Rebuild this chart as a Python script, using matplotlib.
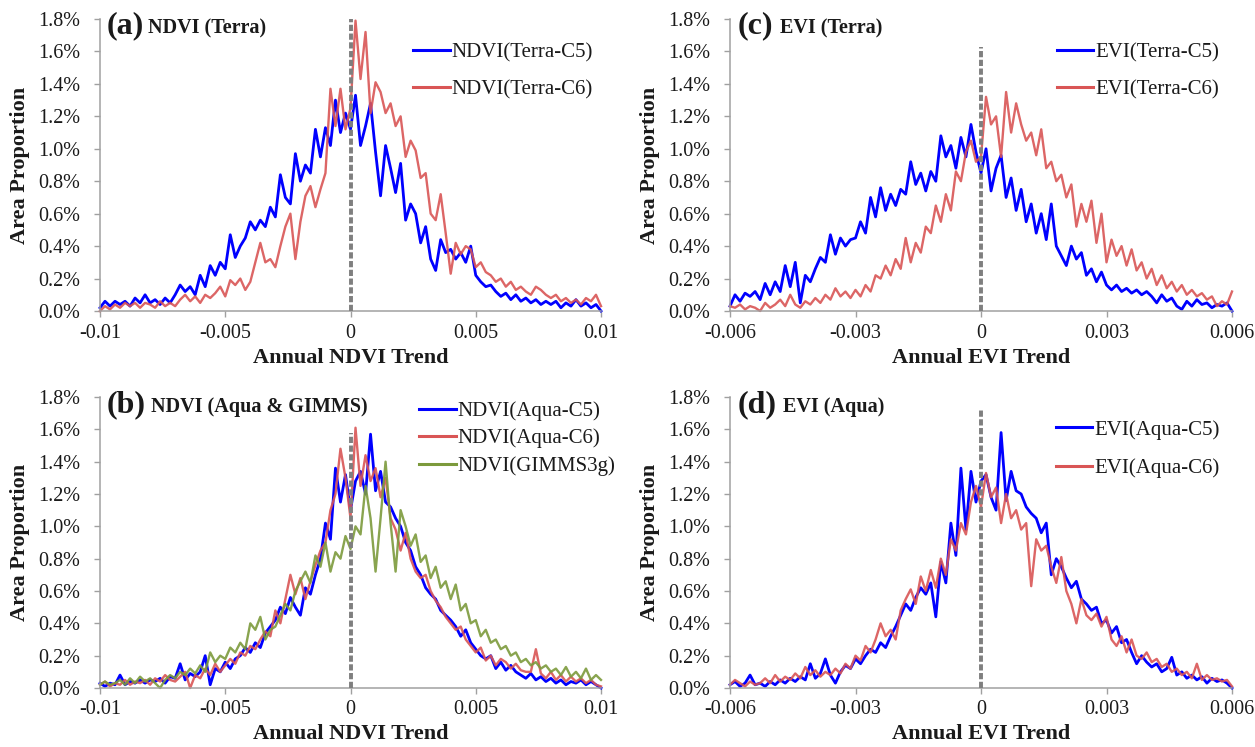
import numpy as np
import matplotlib
matplotlib.use("Agg")
import matplotlib.pyplot as plt
from matplotlib.lines import Line2D

plt.rcParams['font.family'] = ['Liberation Serif', 'DejaVu Serif']

# ---------------- data (Area proportion, %) ----------------
ndvi_bins = np.linspace(-0.01, 0.01, 101)
evi_bins = np.linspace(-0.006, 0.006, 101)

ndvi_terra_c5 = [
    0.02, 0.06, 0.03, 0.06, 0.04, 0.06, 0.03, 0.08, 0.05, 0.10,
    0.05, 0.07, 0.04, 0.08, 0.05, 0.10, 0.16, 0.12, 0.15, 0.10,
    0.22, 0.15, 0.28, 0.22, 0.30, 0.26, 0.47, 0.33, 0.40, 0.45,
    0.55, 0.50, 0.56, 0.52, 0.64, 0.58, 0.84, 0.70, 0.66, 0.97,
    0.80, 0.90, 0.85, 1.12, 0.95, 1.13, 1.02, 1.30, 1.10, 1.22,
    1.12, 1.33, 1.02, 1.14, 1.28, 0.98, 0.71, 1.02, 0.88, 0.73,
    0.91, 0.56, 0.66, 0.60, 0.42, 0.52, 0.32, 0.25, 0.44, 0.36,
    0.38, 0.32, 0.36, 0.30, 0.40, 0.22, 0.18, 0.15, 0.16, 0.12,
    0.09, 0.11, 0.07, 0.10, 0.06, 0.08, 0.05, 0.07, 0.04, 0.06,
    0.04, 0.06, 0.02, 0.05, 0.03, 0.07, 0.03, 0.05, 0.02, 0.04,
    0.00]
ndvi_terra_c6 = [
    0.00, 0.03, 0.01, 0.04, 0.02, 0.05, 0.03, 0.05, 0.02, 0.05,
    0.04, 0.02, 0.06, 0.03, 0.05, 0.03, 0.07, 0.10, 0.06, 0.09,
    0.05, 0.10, 0.08, 0.11, 0.15, 0.09, 0.19, 0.16, 0.20, 0.13,
    0.18, 0.30, 0.42, 0.30, 0.32, 0.27, 0.40, 0.52, 0.60, 0.32,
    0.55, 0.71, 0.77, 0.64, 0.75, 0.85, 1.37, 1.14, 1.37, 1.12,
    1.25, 1.79, 1.43, 1.72, 1.22, 1.41, 1.35, 1.22, 1.28, 1.14,
    1.20, 0.95, 1.05, 0.99, 0.82, 0.85, 0.60, 0.56, 0.72, 0.48,
    0.23, 0.42, 0.35, 0.40, 0.38, 0.27, 0.30, 0.24, 0.22, 0.18,
    0.20, 0.15, 0.18, 0.13, 0.15, 0.12, 0.10, 0.15, 0.13, 0.10,
    0.08, 0.10, 0.06, 0.08, 0.05, 0.07, 0.04, 0.08, 0.06, 0.10,
    0.03]

ndvi_aqua_c5 = [
    0.03, 0.01, 0.03, 0.02, 0.08, 0.02, 0.04, 0.03, 0.05, 0.03,
    0.05, 0.04, 0.06, 0.03, 0.07, 0.06, 0.15, 0.05, 0.09, 0.07,
    0.10, 0.20, 0.02, 0.12, 0.10, 0.16, 0.12, 0.18, 0.20, 0.25,
    0.22, 0.28, 0.25, 0.34, 0.38, 0.42, 0.50, 0.46, 0.56, 0.50,
    0.45, 0.62, 0.58, 0.70, 0.80, 1.02, 0.92, 1.36, 1.15, 1.32,
    1.10, 1.28, 1.34, 1.20, 1.57, 1.22, 1.34, 1.15, 1.12, 1.05,
    1.00, 0.90, 0.85, 0.75, 0.70, 0.62, 0.58, 0.55, 0.48, 0.45,
    0.42, 0.38, 0.32, 0.36, 0.28, 0.24, 0.20, 0.18, 0.20, 0.12,
    0.16, 0.11, 0.14, 0.10, 0.08, 0.06, 0.09, 0.05, 0.07, 0.04,
    0.06, 0.03, 0.05, 0.02, 0.04, 0.03, 0.05, 0.02, 0.04, 0.02,
    0.00]
ndvi_aqua_c6 = [
    0.02, 0.04, 0.01, 0.03, 0.02, 0.05, 0.02, 0.04, 0.03, 0.05,
    0.02, 0.06, 0.04, 0.08, 0.05, 0.04, 0.07, 0.10, 0.00, 0.08,
    0.06, 0.12, 0.08, 0.15, 0.10, 0.14, 0.18, 0.15, 0.22, 0.20,
    0.26, 0.24, 0.30, 0.35, 0.32, 0.48, 0.40, 0.55, 0.70, 0.58,
    0.68, 0.55, 0.66, 0.76, 0.85, 0.90, 1.10, 1.20, 1.48, 1.30,
    1.05, 1.61, 1.25, 1.44, 1.28, 1.36, 1.18, 1.30, 1.05, 0.98,
    0.85, 0.96, 0.80, 0.72, 0.68, 0.70, 0.60, 0.54, 0.50, 0.44,
    0.40, 0.36, 0.38, 0.30, 0.26, 0.22, 0.25, 0.17, 0.20, 0.14,
    0.18, 0.16, 0.12, 0.15, 0.11, 0.10, 0.10, 0.24, 0.09, 0.06,
    0.10, 0.05, 0.08, 0.04, 0.07, 0.04, 0.06, 0.03, 0.05, 0.02,
    0.01]
ndvi_gimms3g = [
    0.02, 0.04, 0.02, 0.03, 0.05, 0.02, 0.06, 0.03, 0.07, 0.04,
    0.06, 0.03, 0.00, 0.05, 0.08, 0.06, 0.10, 0.08, 0.12, 0.09,
    0.14, 0.10, 0.22, 0.16, 0.20, 0.18, 0.25, 0.22, 0.28, 0.24,
    0.40, 0.36, 0.44, 0.30, 0.36, 0.38, 0.45, 0.52, 0.48, 0.60,
    0.66, 0.72, 0.65, 0.82, 0.75, 0.90, 0.72, 0.84, 0.80, 0.94,
    0.86, 1.00, 0.95, 1.25, 1.05, 0.72, 1.05, 1.40, 1.02, 0.72,
    1.10, 1.00, 0.88, 0.95, 0.78, 0.82, 0.68, 0.75, 0.62, 0.66,
    0.55, 0.64, 0.48, 0.52, 0.40, 0.42, 0.32, 0.36, 0.28, 0.30,
    0.24, 0.26, 0.20, 0.22, 0.16, 0.18, 0.14, 0.16, 0.12, 0.14,
    0.10, 0.12, 0.08, 0.13, 0.07, 0.10, 0.06, 0.12, 0.05, 0.08,
    0.05]

evi_terra_c5 = [
    0.03, 0.10, 0.06, 0.11, 0.09, 0.12, 0.07, 0.17, 0.10, 0.18,
    0.12, 0.28, 0.15, 0.30, 0.05, 0.22, 0.18, 0.26, 0.33, 0.30,
    0.47, 0.35, 0.45, 0.40, 0.44, 0.45, 0.55, 0.48, 0.70, 0.58,
    0.76, 0.62, 0.72, 0.65, 0.75, 0.72, 0.92, 0.78, 0.85, 0.74,
    0.86, 0.80, 1.08, 0.95, 1.02, 0.88, 1.07, 0.95, 1.15, 0.98,
    0.85, 1.00, 0.74, 0.88, 0.96, 0.70, 0.82, 0.62, 0.75, 0.55,
    0.66, 0.48, 0.60, 0.44, 0.66, 0.40, 0.34, 0.28, 0.40, 0.32,
    0.36, 0.22, 0.26, 0.18, 0.24, 0.16, 0.13, 0.16, 0.12, 0.14,
    0.11, 0.13, 0.10, 0.12, 0.09, 0.05, 0.10, 0.06, 0.08, 0.03,
    0.01, 0.06, 0.03, 0.07, 0.04, 0.05, 0.02, 0.04, 0.03, 0.05,
    0.00]
evi_terra_c6 = [
    0.03, 0.02, 0.04, 0.01, 0.03, 0.02, 0.00, 0.05, 0.02, 0.04,
    0.07, 0.03, 0.10, 0.04, 0.02, 0.06, 0.04, 0.08, 0.05, 0.10,
    0.07, 0.14, 0.09, 0.12, 0.08, 0.13, 0.09, 0.16, 0.12, 0.22,
    0.20, 0.28, 0.22, 0.32, 0.26, 0.45, 0.30, 0.42, 0.36, 0.52,
    0.48, 0.65, 0.55, 0.72, 0.62, 0.86, 0.80, 0.98, 1.05, 0.92,
    0.95, 1.32, 1.15, 1.20, 0.95, 1.35, 1.10, 1.28, 1.15, 1.05,
    1.10, 0.96, 1.12, 0.88, 0.92, 0.80, 0.84, 0.70, 0.78, 0.52,
    0.66, 0.55, 0.68, 0.42, 0.60, 0.30, 0.44, 0.34, 0.40, 0.28,
    0.38, 0.25, 0.30, 0.20, 0.26, 0.16, 0.22, 0.14, 0.18, 0.12,
    0.16, 0.10, 0.13, 0.09, 0.11, 0.07, 0.09, 0.03, 0.06, 0.04,
    0.12]

evi_aqua_c5 = [
    0.02, 0.04, 0.01, 0.03, 0.08, 0.02, 0.03, 0.01, 0.04, 0.02,
    0.05, 0.03, 0.06, 0.04, 0.07, 0.05, 0.15, 0.06, 0.09, 0.18,
    0.08, 0.03, 0.10, 0.14, 0.12, 0.18, 0.15, 0.20, 0.24, 0.22,
    0.28, 0.25, 0.32, 0.38, 0.45, 0.52, 0.48, 0.56, 0.62, 0.58,
    0.65, 0.44, 0.78, 0.65, 1.02, 0.82, 1.36, 0.98, 1.34, 1.15,
    1.28, 1.32, 1.18, 1.10, 1.58, 1.16, 1.34, 1.22, 1.20, 1.12,
    1.08, 1.05, 0.96, 1.02, 0.70, 0.80, 0.75, 0.68, 0.62, 0.66,
    0.55, 0.52, 0.48, 0.50, 0.40, 0.42, 0.34, 0.38, 0.28, 0.30,
    0.22, 0.15, 0.20, 0.16, 0.13, 0.15, 0.10, 0.12, 0.19, 0.08,
    0.10, 0.06, 0.08, 0.05, 0.07, 0.03, 0.06, 0.04, 0.05, 0.03,
    0.00]
evi_aqua_c6 = [
    0.02, 0.05, 0.03, 0.01, 0.04, 0.02, 0.03, 0.06, 0.03, 0.08,
    0.04, 0.07, 0.05, 0.09, 0.06, 0.13, 0.08, 0.11, 0.07, 0.10,
    0.08, 0.12, 0.09, 0.15, 0.12, 0.20, 0.17, 0.26, 0.22, 0.30,
    0.40, 0.32, 0.36, 0.30, 0.48, 0.55, 0.61, 0.52, 0.69, 0.60,
    0.73, 0.62, 0.80, 0.70, 0.92, 0.85, 1.02, 0.95, 1.15, 1.25,
    1.12, 1.33, 1.18, 1.24, 1.02, 1.20, 1.05, 1.10, 0.98, 1.02,
    0.63, 0.92, 0.85, 0.88, 0.75, 0.65, 0.81, 0.60, 0.52, 0.40,
    0.55, 0.45, 0.42, 0.46, 0.38, 0.44, 0.30, 0.26, 0.32, 0.22,
    0.30, 0.20, 0.18, 0.22, 0.16, 0.18, 0.13, 0.15, 0.10, 0.12,
    0.08, 0.10, 0.06, 0.15, 0.05, 0.08, 0.05, 0.06, 0.04, 0.05,
    0.01]

ndvi_ticks = [-0.01, -0.005, 0, 0.005, 0.01]
ndvi_ticklabels = ["-0.01", "-0.005", "0", "0.005", "0.01"]
evi_ticks = [-0.006, -0.003, 0, 0.003, 0.006]
evi_ticklabels = ["-0.006", "-0.003", "0", "0.003", "0.006"]
y_ticks = [0.0, 0.2, 0.4, 0.6, 0.8, 1.0, 1.2, 1.4, 1.6, 1.8]

BLUE = "#0000FF"
RED = "#D95555"
GREEN = "#7C9A3C"
GRAY = "#7F7F7F"
AXC = "#A0A0A0"
TXT = "#1A1A1A"

panels = [
    dict(rect=[100/1255, 1-311/747, 501/1255, 292/747], x=ndvi_bins,
         series=[(ndvi_terra_c5, BLUE, "NDVI(Terra-C5)"), (ndvi_terra_c6, RED, "NDVI(Terra-C6)")],
         ticks=ndvi_ticks, ticklabels=ndvi_ticklabels, xlabel="Annual NDVI Trend",
         letter="(a)", title="NDVI (Terra)", lx=0.014, tx=0.096, ty=0.952,
         vmax=1.8, leg=(0.625, 0.918), lsp=0.82),
    dict(rect=[100/1255, 1-688/747, 501/1255, 291/747], x=ndvi_bins,
         series=[(ndvi_aqua_c5, BLUE, "NDVI(Aqua-C5)"), (ndvi_aqua_c6, RED, "NDVI(Aqua-C6)"),
                 (ndvi_gimms3g, GREEN, "NDVI(GIMMS3g)")],
         ticks=ndvi_ticks, ticklabels=ndvi_ticklabels, xlabel="Annual NDVI Trend",
         letter="(b)", title="NDVI (Aqua & GIMMS)", lx=0.013, tx=0.101, ty=0.948,
         vmax=1.58, leg=(0.637, 0.986), lsp=0.38),
    dict(rect=[730/1255, 1-311/747, 502/1255, 292/747], x=evi_bins,
         series=[(evi_terra_c5, BLUE, "EVI(Terra-C5)"), (evi_terra_c6, RED, "EVI(Terra-C6)")],
         ticks=evi_ticks, ticklabels=evi_ticklabels, xlabel="Annual EVI Trend",
         letter="(c)", title="EVI (Terra)", lx=0.016, tx=0.100, ty=0.952,
         vmax=1.63, leg=(0.651, 0.918), lsp=0.82),
    dict(rect=[730/1255, 1-688/747, 502/1255, 291/747], x=evi_bins,
         series=[(evi_aqua_c5, BLUE, "EVI(Aqua-C5)"), (evi_aqua_c6, RED, "EVI(Aqua-C6)")],
         ticks=evi_ticks, ticklabels=evi_ticklabels, xlabel="Annual EVI Trend",
         letter="(d)", title="EVI (Aqua)", lx=0.015, tx=0.105, ty=0.948,
         vmax=1.72, leg=(0.649, 0.921), lsp=0.90),
]

fig = plt.figure(figsize=(12.55, 7.47), dpi=100)

for p in panels:
    ax = fig.add_axes(p["rect"])
    handles = []
    for vals, col, lab in p["series"]:
        lw = 2.0 if col == BLUE else 1.7
        alpha = 1.0 if col == BLUE else 0.9
        ax.plot(p["x"], vals, color=col, lw=lw, alpha=alpha, clip_on=False,
                solid_joinstyle='round')
        handles.append(Line2D([], [], color=col, lw=2.2))
    ax.plot([0, 0], [0, p["vmax"]], color=GRAY, lw=2.8, ls=(0, (1.6, 0.65)), zorder=5)

    xmin, xmax = p["ticks"][0], p["ticks"][-1]
    ax.set_xlim(xmin, xmax)
    ax.set_ylim(0, 1.8)
    ax.set_xticks(p["ticks"])
    ax.set_xticklabels(p["ticklabels"])
    ax.set_yticks(y_ticks)
    ax.set_yticklabels([f"{v:.1f}%" for v in y_ticks])
    for s in ("top", "right"):
        ax.spines[s].set_visible(False)
    for s in ("left", "bottom"):
        ax.spines[s].set_color(AXC)
        ax.spines[s].set_linewidth(1.1)
    ax.tick_params(axis="y", direction="out", length=4, width=1.0, color=AXC,
                   labelsize=14.5, labelcolor=TXT, pad=10)
    ax.tick_params(axis="x", direction="out", length=4, width=1.0, color=AXC,
                   labelsize=14.5, labelcolor=TXT, pad=5)

    ax.set_xlabel(p["xlabel"], fontsize=16, fontweight="bold", color=TXT, va="top")
    ax.xaxis.set_label_coords(0.5, -0.125)
    ax.set_ylabel("Area Proportion", fontsize=16, fontweight="bold", color=TXT)
    ax.yaxis.set_label_coords(-0.14, 0.5)

    ax.text(p["lx"], p["ty"], p["letter"], transform=ax.transAxes, fontsize=23,
            fontweight="bold", color=TXT, va="baseline", ha="left")
    ax.text(p["tx"], p["ty"], p["title"], transform=ax.transAxes, fontsize=14.5,
            fontweight="bold", color=TXT, va="baseline", ha="left")

    leg = ax.legend(handles, [s[2] for s in p["series"]], loc="upper left",
                    bbox_to_anchor=p["leg"], frameon=False, fontsize=15,
                    handlelength=1.75, handletextpad=0.1, labelspacing=p["lsp"],
                    borderpad=0, borderaxespad=0)
    for t in leg.get_texts():
        t.set_color(TXT)

fig.savefig("out.png", dpi=100)
